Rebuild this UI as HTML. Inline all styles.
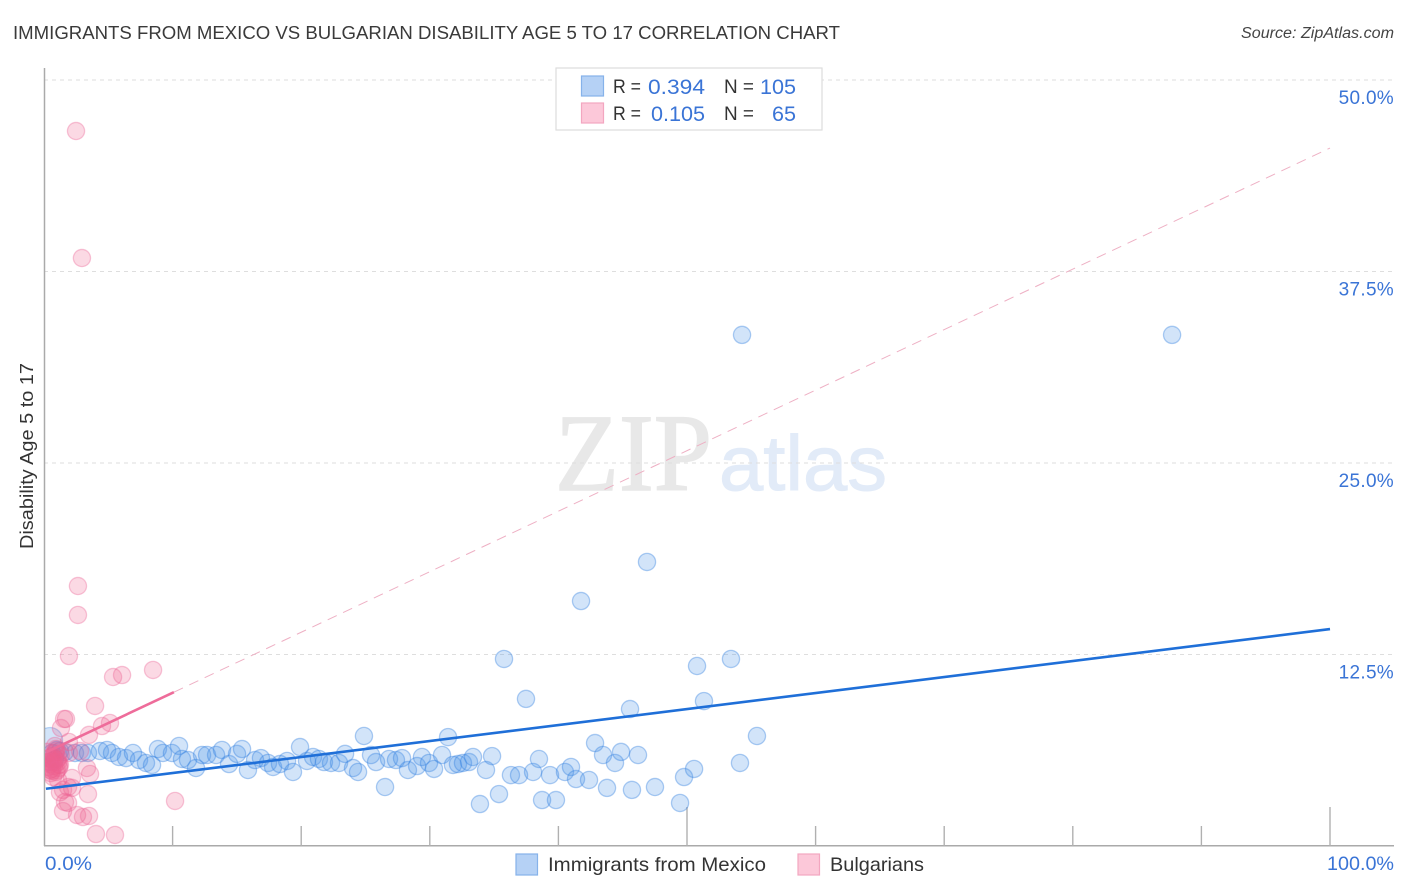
<!DOCTYPE html>
<html lang="en">
<head>
<meta charset="utf-8">
<title>Immigrants from Mexico vs Bulgarian Disability Age 5 to 17 Correlation Chart</title>
<style>
html,body{margin:0;padding:0;background:#fff;}
body{width:1406px;height:892px;overflow:hidden;}
svg{display:block;font-family:"Liberation Sans",sans-serif;}
</style>
</head>
<body>
<svg id="chart" width="1406" height="892" viewBox="0 0 1406 892" xmlns="http://www.w3.org/2000/svg">
  <defs>
    <clipPath id="plot-clip"><rect x="45" y="60" width="1349" height="785"/></clipPath>
  </defs>
  <text x="13" y="39" font-size="18.5" fill="#3a3a3a" textLength="827" lengthAdjust="spacingAndGlyphs">IMMIGRANTS FROM MEXICO VS BULGARIAN DISABILITY AGE 5 TO 17 CORRELATION CHART</text>
  <text x="1394" y="38" font-size="15.5" font-style="italic" fill="#444" text-anchor="end" textLength="153" lengthAdjust="spacingAndGlyphs">Source: ZipAtlas.com</text>

  <g>
    <text x="555" y="490" font-family="'Liberation Serif',serif" font-size="110" fill="#e8e8e8" stroke="#e8e8e8" stroke-width="1.5" textLength="157" lengthAdjust="spacingAndGlyphs">ZIP</text>
    <text x="719" y="490" font-size="78" fill="#e2ebf8" stroke="#e2ebf8" stroke-width="1" textLength="168" lengthAdjust="spacingAndGlyphs">atlas</text>
  </g>

  <g id="grid"></g>
  <g id="axes"></g>
  <g id="blue-points" clip-path="url(#plot-clip)"></g>
  <g id="pink-points" clip-path="url(#plot-clip)"></g>
  <g id="trends"></g>
  <g id="tick-labels"></g>

  <text transform="translate(33,456) rotate(-90)" font-size="18" fill="#333" text-anchor="middle" textLength="186" lengthAdjust="spacingAndGlyphs">Disability Age 5 to 17</text>

  <g>
    <rect x="556" y="68" width="266" height="62" fill="#fff" stroke="#ddd" stroke-width="1.2"/>
    <rect x="581.5" y="76" width="22" height="20" fill="#b5d1f5" stroke="#86b2ea" stroke-width="1.2"/>
    <rect x="581.5" y="103" width="22" height="20" fill="#fcc8d9" stroke="#f3a6c0" stroke-width="1.2"/>
    <text x="613" y="93" font-size="19" fill="#333" textLength="28" lengthAdjust="spacingAndGlyphs">R =</text>
    <text x="705" y="94" font-size="21" fill="#3a74d6" text-anchor="end" textLength="57" lengthAdjust="spacingAndGlyphs">0.394</text>
    <text x="724" y="93" font-size="19" fill="#333" textLength="30" lengthAdjust="spacingAndGlyphs">N =</text>
    <text x="796" y="94" font-size="21" fill="#3a74d6" text-anchor="end" textLength="36" lengthAdjust="spacingAndGlyphs">105</text>
    <text x="613" y="120" font-size="19" fill="#333" textLength="28" lengthAdjust="spacingAndGlyphs">R =</text>
    <text x="705" y="121" font-size="21" fill="#3a74d6" text-anchor="end" textLength="54" lengthAdjust="spacingAndGlyphs">0.105</text>
    <text x="724" y="120" font-size="19" fill="#333" textLength="30" lengthAdjust="spacingAndGlyphs">N =</text>
    <text x="796" y="121" font-size="21" fill="#3a74d6" text-anchor="end" textLength="24" lengthAdjust="spacingAndGlyphs">65</text>
  </g>

  <g>
    <g>
      <rect x="516" y="854" width="21.5" height="21" fill="#b5d1f5" stroke="#86b2ea" stroke-width="1.2"/>
      <text x="548" y="871" font-size="19.5" fill="#333" textLength="218" lengthAdjust="spacingAndGlyphs">Immigrants from Mexico</text>
    </g>
    <g>
      <rect x="798" y="854" width="21.5" height="21" fill="#fcc8d9" stroke="#f3a6c0" stroke-width="1.2"/>
      <text x="830" y="871" font-size="19.5" fill="#333" textLength="94" lengthAdjust="spacingAndGlyphs">Bulgarians</text>
    </g>
  </g>
</svg>
<script>
var yTickValues = [12.5, 25, 37.5, 50];
var yTickLabels = ['12.5%', '25.0%', '37.5%', '50.0%'];
var xTickValues = [10, 20, 30, 40, 50, 60, 70, 80, 90, 100];
var xMajorTicks = [50, 100];
var xEndLabels = ['0.0%', '100.0%'];

var blueX = [
  1.01,1.63,2.41,2.95,3.42,4.35,4.90,5.29,5.83,6.38,6.92,7.39,7.93,8.40,8.86,9.25,9.95,10.50,10.73,11.20,11.82,12.29,12.68,13.38,13.84,14.39,15.01,15.40,15.86,16.41,16.87,17.42,17.81,18.35,18.90,19.36,19.91,
  20.45,20.92,21.38,21.77,22.32,22.94,23.41,24.03,24.42,24.88,25.43,25.82,26.52,26.83,27.37,27.84,28.30,29.01,29.39,29.94,30.33,30.95,31.42,31.80,32.19,32.58,33.05,33.36,33.90,34.37,34.84,35.38,
  36.31,36.94,37.48,38.03,38.49,38.73,39.35,39.81,40.51,40.98,41.37,42.38,42.85,43.47,43.78,44.40,44.87,45.57,45.72,46.19,46.89,47.51,
  49.46,49.77,50.55,50.78,51.32,53.42,54.12,54.28,55.44,87.72,41.76,35.77,
  0.62,1.24,0.86
];
var blueY = [
  6.27,6.14,6.07,6.07,6.07,6.20,6.27,6.07,5.81,5.74,6.07,5.61,5.42,5.29,6.33,6.07,6.07,6.53,5.68,5.61,5.09,5.94,5.94,5.94,6.27,5.35,6.01,6.33,4.96,5.61,5.74,5.42,5.16,5.35,5.55,4.83,6.46,
  5.55,5.81,5.68,5.48,5.42,5.42,6.01,5.09,4.83,7.18,5.94,5.48,3.85,5.68,5.61,5.74,4.96,5.22,5.81,5.42,5.03,5.94,7.11,5.29,5.35,5.42,5.48,5.81,2.74,4.96,5.87,3.39,
  4.63,4.63,9.60,4.83,5.68,3.00,4.63,3.00,4.83,5.16,4.37,4.31,6.72,5.94,3.79,5.42,6.14,8.94,3.66,5.94,18.54,3.85,
  2.81,4.50,5.03,11.75,9.46,12.21,5.42,33.36,7.18,33.36,15.99,12.21,
  6.07,6.20,5.68
];
var blueBigX = [0.47];
var blueBigY = [6.92];

var pinkX = [
  2.49,2.95,2.64,2.64,1.94,5.37,6.07,8.48,3.97,1.71,1.56,1.32,5.13,4.51,3.50,1.94,3.34,3.58,2.18,1.48,1.87,2.18,3.42,1.63,1.87,1.48,2.57,3.03,3.50,4.04,5.52,10.19,
  0.23,0.39,0.47,0.62,0.78,0.86,1.01,1.16,1.24,1.09,0.93,0.31,0.47,0.62,0.78,0.93,1.09,0.70,0.85,0.39,0.54,0.70,0.93,1.16,1.30,0.62,0.31,1.01,0.70,1.09,1.24,2.80,1.94
];
var pinkY = [
  46.67,38.38,16.97,15.08,12.40,11.03,11.16,11.49,9.14,8.29,8.29,7.70,8.03,7.83,7.25,6.79,5.09,4.70,4.44,3.66,3.85,3.79,3.39,2.87,2.81,2.28,2.02,1.89,1.96,0.78,0.72,2.94,
  6.14,5.74,5.35,5.87,5.48,6.07,5.61,5.30,5.29,5.74,6.33,5.16,4.96,5.03,5.22,4.83,5.48,5.61,6.53,5.48,4.76,5.74,6.20,5.10,5.94,4.90,5.50,4.95,4.50,4.31,3.50,6.20,6.07
];

var blueTrend = [3.72, 14.16];
var pinkTrend = [6.05, 45.56];
var pinkSolidEnd = [10.1];

var svgNS = 'http://www.w3.org/2000/svg';
function xScale(v){ return 44 + v * 12.86; }
function yScale(v){ return 846 - v * 15.32; }
function trendY(t, x){ return t[0] + (t[1] - t[0]) * x / 100; }
function make(tag, parentId, attrs){
  var el = document.createElementNS(svgNS, tag);
  for (var k in attrs) { el.setAttribute(k, attrs[k]); }
  document.getElementById(parentId).appendChild(el);
  return el;
}

yTickValues.forEach(function(v, i){
  var g = make('line', 'grid', {x1:44, x2:1394, y1:yScale(v), y2:yScale(v), stroke:'#dedede', 'stroke-width':1, 'stroke-dasharray':'4 4'});
  
  
  var t = make('text', 'tick-labels', {x:1394, y:yScale(v) + 24, 'font-size':19, fill:'#3a74d6', 'text-anchor':'end', 'letter-spacing':'0.3'});
  t.textContent = yTickLabels[i];
  
  
});

var leftAxis = make('line', 'axes', {x1:44.5, x2:44.5, y1:68, y2:846, stroke:'#aaa', 'stroke-width':1.5});


var bottomAxis = make('line', 'axes', {x1:44, x2:1394, y1:845.8, y2:845.8, stroke:'#aaa', 'stroke-width':1.5});



xTickValues.forEach(function(v){
  var top = xMajorTicks.indexOf(v) >= 0 ? 807 : 826;
  var tick = make('line', 'axes', {x1:xScale(v), x2:xScale(v), y1:top, y2:846, stroke:'#b0b0b0', 'stroke-width':1.4});
  
  
});

var xLabelLeft = make('text', 'tick-labels', {x:45, y:870, 'font-size':19.5, fill:'#3a74d6', textLength:47, lengthAdjust:'spacingAndGlyphs'});
xLabelLeft.textContent = xEndLabels[0];


var xLabelRight = make('text', 'tick-labels', {x:1394, y:870, 'font-size':19.5, fill:'#3a74d6', 'text-anchor':'end', textLength:67, lengthAdjust:'spacingAndGlyphs'});
xLabelRight.textContent = xEndLabels[1];



blueBigX.forEach(function(v, i){
  var big = make('circle', 'blue-points', {cx:xScale(v), cy:yScale(blueBigY[i]), r:12.5, fill:'rgba(77,148,232,0.25)', stroke:'rgba(47,127,224,0.3)', 'stroke-width':1.3});
  
  
});
blueX.forEach(function(v, i){
  var c = make('circle', 'blue-points', {cx:xScale(v), cy:yScale(blueY[i]), r:8.6, fill:'rgba(77,148,232,0.25)', stroke:'rgba(47,127,224,0.38)', 'stroke-width':1.3});
  
  
});
pinkX.forEach(function(v, i){
  var c = make('circle', 'pink-points', {cx:xScale(v), cy:yScale(pinkY[i]), r:8.6, fill:'rgba(240,96,144,0.24)', stroke:'rgba(235,100,150,0.36)', 'stroke-width':1.3});
  
  
});

var dash = make('line', 'trends', {x1:xScale(pinkSolidEnd[0]), y1:yScale(trendY(pinkTrend, pinkSolidEnd[0])), x2:xScale(100), y2:yScale(trendY(pinkTrend, 100)), stroke:'#eeb0c4', 'stroke-width':1, 'stroke-dasharray':'10 7'});


var blueLine = make('line', 'trends', {x1:xScale(0.15), y1:yScale(trendY(blueTrend, 0.15)), x2:xScale(100), y2:yScale(trendY(blueTrend, 100)), stroke:'#1f6fd8', 'stroke-width':2.6});


var pinkLine = make('line', 'trends', {x1:xScale(0.2), y1:yScale(trendY(pinkTrend, 0.2)), x2:xScale(pinkSolidEnd[0]), y2:yScale(trendY(pinkTrend, pinkSolidEnd[0])), stroke:'#ee6c9a', 'stroke-width':2.6});


</script>
</body>
</html>
